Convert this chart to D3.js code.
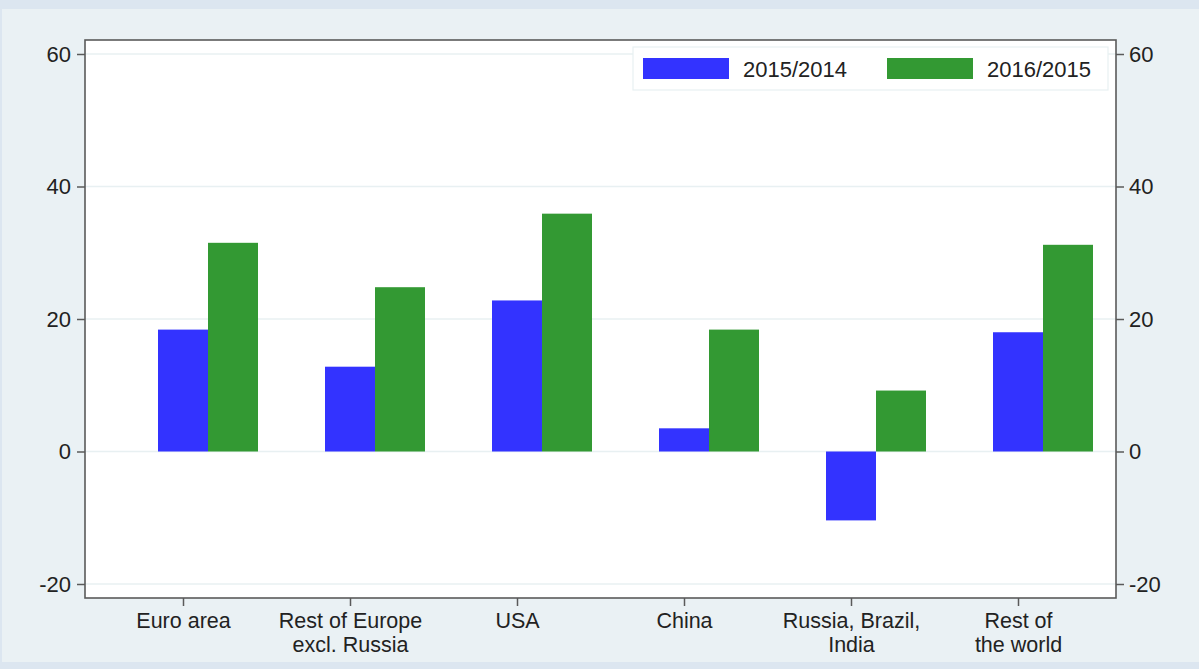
<!DOCTYPE html>
<html><head><meta charset="utf-8">
<script src="https://cdn.jsdelivr.net/npm/d3@7"></script>
<style>
html,body{margin:0;padding:0;background:#dce6f0;}
svg{display:block;font-family:"Liberation Sans",Arial,Helvetica,sans-serif;}
</style></head>
<body>
<svg id="chart" width="1199" height="669"></svg>
<script>
const categories = [["Euro area"],["Rest of Europe","excl. Russia"],["USA"],["China"],["Russia, Brazil,","India"],["Rest of","the world"]];
const seriesNames = ["2015/2014","2016/2015"];
const values2015 = [18.4, 12.8, 22.8, 3.5, -10.4, 18.0];
const values2016 = [31.5, 24.8, 35.9, 18.4, 9.2, 31.2];
const yTicks = [-20, 0, 20, 40, 60];
const colors = ["#3333ff", "#339933"];

const svg = d3.select("#chart");
const W = 1199, H = 669;
const plot = {left: 85, right: 1116, top: 40, bottom: 598};

svg.append("rect").attr("x",0).attr("y",0).attr("width",W).attr("height",H).attr("fill","#dce6f0");
svg.append("rect").attr("x",2).attr("y",9).attr("width",W-2).attr("height",653).attr("fill","#eaf1f4");
svg.append("rect").attr("x",plot.left).attr("y",plot.top).attr("width",plot.right-plot.left).attr("height",plot.bottom-plot.top).attr("fill","#ffffff");

const y = d3.scaleLinear().domain([-20, 60]).range([584, 54]);
const x = d3.scalePoint().domain(d3.range(categories.length)).range([183, 1018]);
const bw = 50;

// grid
svg.append("g").selectAll("line").data(yTicks).join("line")
  .attr("x1",plot.left).attr("x2",plot.right)
  .attr("y1",d=>y(d)).attr("y2",d=>y(d))
  .attr("stroke","#e8f0f2").attr("stroke-width",1.5);

// bars
const series = [values2015, values2016];
series.forEach((vals, si) => {
  svg.append("g").selectAll("rect").data(vals).join("rect")
    .attr("x",(d,i)=> x(i) - bw/2 + si*bw)
    .attr("width", bw)
    .attr("y", d => Math.min(y(d), y(0)))
    .attr("height", d => Math.abs(y(d) - y(0)))
    .attr("fill", colors[si]);
});

// frame
svg.append("rect").attr("x",plot.left).attr("y",plot.top).attr("width",plot.right-plot.left).attr("height",plot.bottom-plot.top)
  .attr("fill","none").attr("stroke","#5a5a5a").attr("stroke-width",1.6);

const fs = 22;
const ff = '"Liberation Sans",Arial,sans-serif';
// left axis
const fmt = d => String(d);
const leftAxis = d3.axisLeft(y).tickValues(yTicks).tickSize(8).tickPadding(6).tickFormat(fmt);
const gl = svg.append("g").attr("transform",`translate(${plot.left},0)`).call(leftAxis);
const rightAxis = d3.axisRight(y).tickValues(yTicks).tickSize(8).tickPadding(5).tickFormat(fmt);
const gr = svg.append("g").attr("transform",`translate(${plot.right},0)`).call(rightAxis);
[gl, gr].forEach(g => {
  g.select(".domain").remove();
  g.selectAll(".tick line").attr("stroke","#5a5a5a").attr("stroke-width",1.5);
  g.selectAll(".tick text").attr("fill","#222").style("font-size",fs+"px").style("font-family",ff);
});

// bottom axis
const bottomAxis = d3.axisBottom(x).tickSize(8).tickFormat("");
const gb = svg.append("g").attr("transform",`translate(0,${plot.bottom})`).call(bottomAxis);
gb.select(".domain").remove();
gb.selectAll(".tick line").attr("stroke","#5a5a5a").attr("stroke-width",1.5);
const cfs = 21.5;
gb.selectAll(".tick").each(function(d){
  const g = d3.select(this);
  categories[d].forEach((line,li)=>{
    g.append("text").attr("text-anchor","middle").attr("fill","#222")
      .style("font-size",cfs+"px").style("font-family",ff)
      .attr("x",0).attr("y",29.5 + li*24.5).text(line);
  });
});

// legend
const lg = svg.append("g");
lg.append("rect").attr("x",633).attr("y",47).attr("width",475).attr("height",43)
  .attr("fill","#fff").attr("stroke","#e8f0f2").attr("stroke-width",1.2);
const legX = [643, 887];
seriesNames.forEach((n,i)=>{
  lg.append("rect").attr("x",legX[i]).attr("y",58).attr("width",86).attr("height",21).attr("fill",colors[i]);
  lg.append("text").attr("x",legX[i]+100).attr("y",76.5).attr("fill","#222")
    .style("font-size",fs+"px").style("font-family",ff).text(n);
});
</script>
</body></html>
